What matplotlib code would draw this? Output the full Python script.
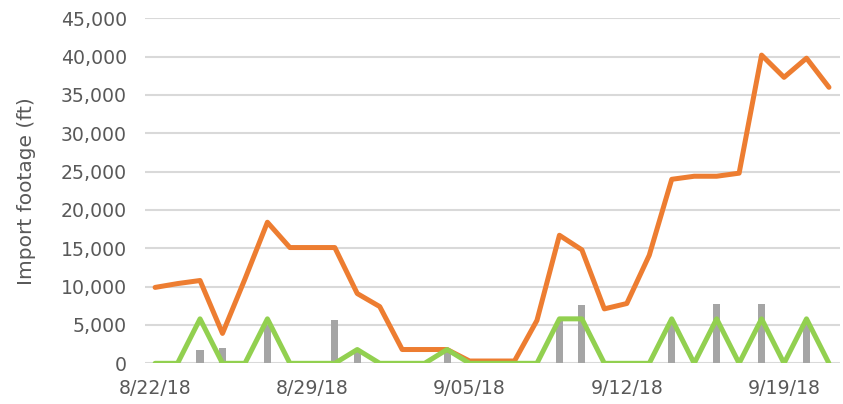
import matplotlib
matplotlib.use("Agg")
import matplotlib.pyplot as plt
import matplotlib.dates as mdates
import pandas as pd

# daily values, 8/22/18 .. 9/21/18
dates = pd.date_range("2018-08-22", "2018-09-21", freq="D")

total_ft = [9900, 10400, 10800, 3900, 11000, 18400, 15100, 15100, 15100, 9100,
            7400, 1800, 1800, 1800, 300, 300, 300, 5600, 16700, 14800,
            7100, 7800, 14100, 24000, 24400, 24400, 24800, 40200, 37300, 39800,
            36000]

daily_ft = [0, 0, 1800, 2000, 0, 5000, 0, 0, 5600, 1500,
            0, 0, 0, 1500, 0, 0, 0, 0, 5500, 7600,
            0, 0, 0, 5500, 0, 7800, 0, 7700, 0, 5500,
            0]

batch_ft = [0, 0, 5800, 0, 0, 5800, 0, 0, 0, 1800,
            0, 0, 0, 1800, 0, 0, 0, 0, 5800, 5800,
            0, 0, 0, 5800, 0, 5800, 0, 5800, 0, 5800,
            0]

tick_dates = pd.to_datetime(["2018-08-22", "2018-08-29", "2018-09-05",
                             "2018-09-12", "2018-09-19"])

text_col = "#595959"

fig = plt.figure(figsize=(8.43, 4.04), dpi=100)
ax = fig.add_axes([0.172, 0.1007, 0.8244, 0.854])

ax.bar(dates, daily_ft, width=0.32, color="#A5A5A5", zorder=2)
ax.plot(dates, total_ft, color="#ED7D31", lw=3.6, zorder=3,
        solid_joinstyle="round", solid_capstyle="round")
ax.plot(dates, batch_ft, color="#92D050", lw=3.6, zorder=4,
        solid_joinstyle="round", solid_capstyle="round")

ax.set_ylim(0, 45000)
ax.set_yticks(range(0, 45001, 5000))
ax.yaxis.set_major_formatter(matplotlib.ticker.FuncFormatter(lambda v, p: f"{int(v):,}"))
ax.set_xlim(mdates.date2num(dates[0]) - 0.45, mdates.date2num(dates[-1]) + 0.49)
ax.set_xticks(tick_dates)
ax.set_xticklabels([f"{d.month}/{d.day:02d}/{d.strftime('%y')}" for d in tick_dates])

ax.grid(axis="y", color="#D9D9D9", lw=1.5, zorder=0)
ax.set_axisbelow(True)
for s in ax.spines.values():
    s.set_visible(False)
ax.tick_params(length=0, labelsize=13.6, colors=text_col)
ax.tick_params(axis="x", pad=11)
ax.tick_params(axis="y", pad=13)
ax.set_ylabel("Import footage (ft)", fontsize=14.5, color=text_col, labelpad=18)

fig.savefig("out.png", dpi=100)
